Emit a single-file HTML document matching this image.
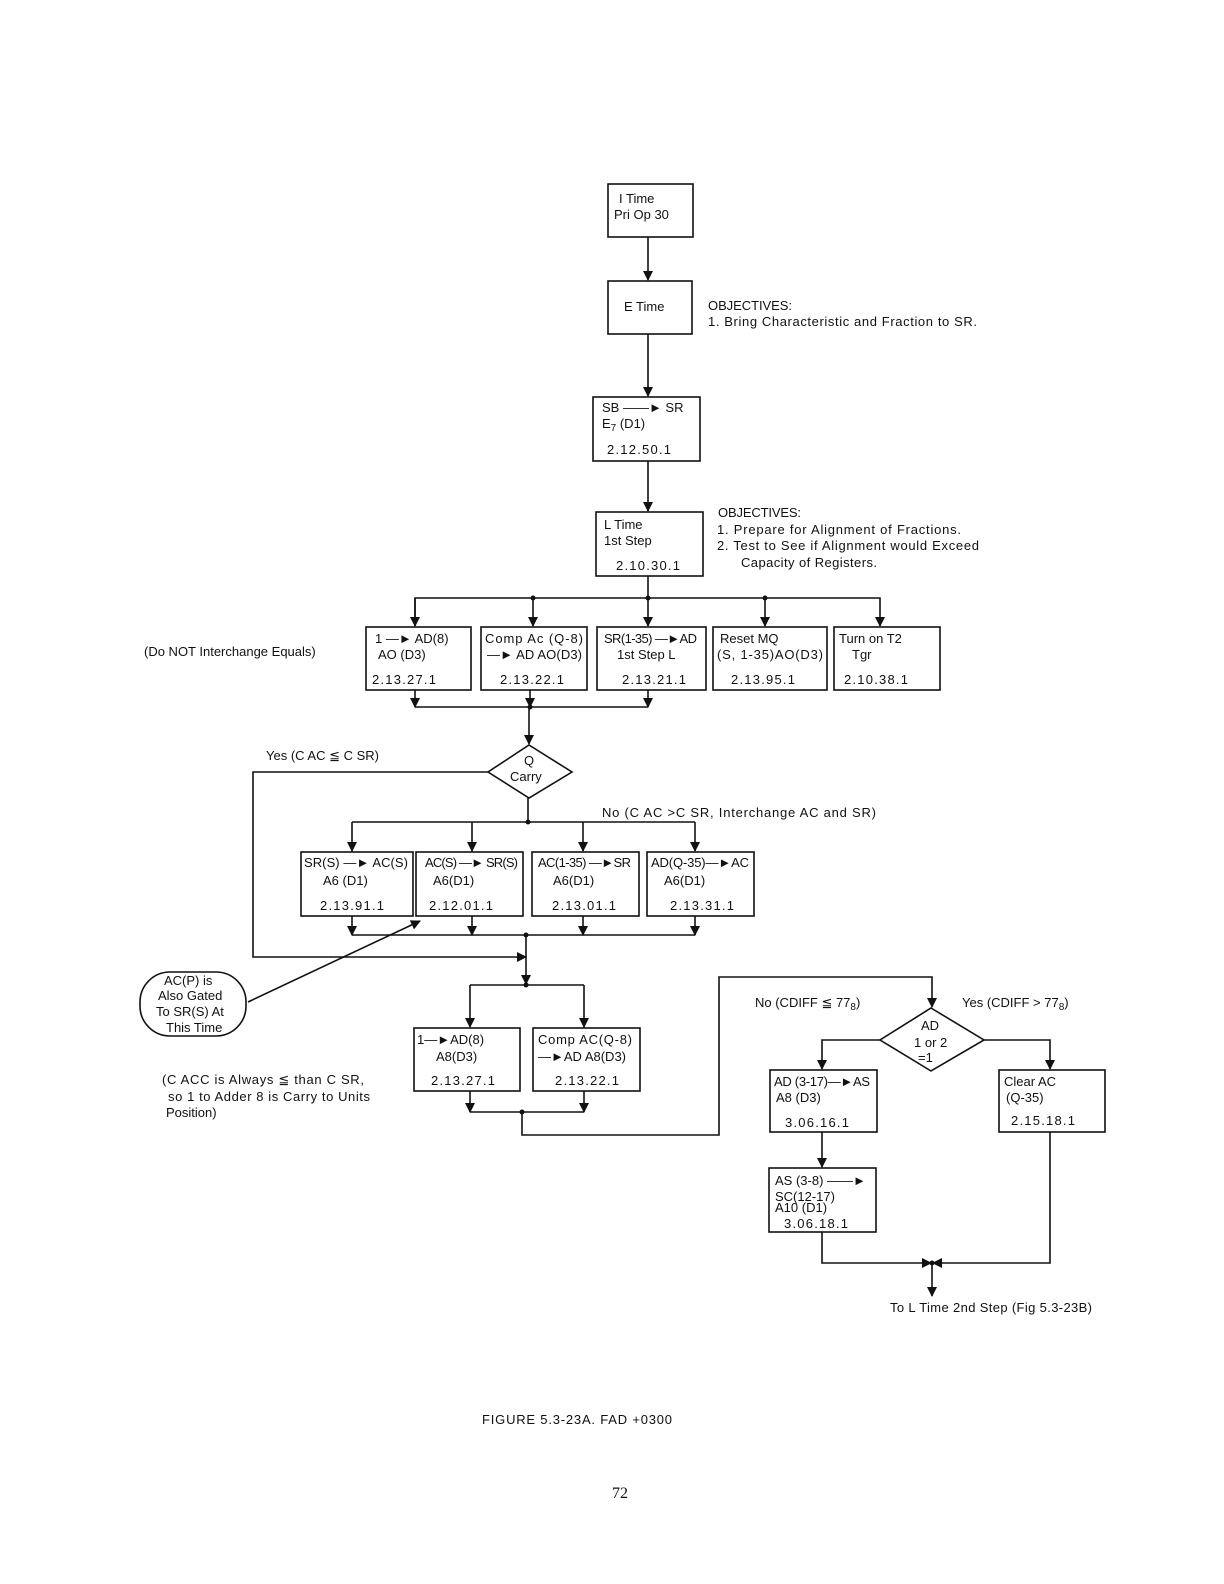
<!DOCTYPE html>
<html><head><meta charset="utf-8"><style>
html,body{margin:0;padding:0;background:#fff;overflow:hidden}
svg{display:block}
text{font-family:"Liberation Sans",sans-serif;font-size:13px;fill:#111}
</style></head><body>
<svg width="1224" height="1584" viewBox="0 0 1224 1584" xmlns="http://www.w3.org/2000/svg">
<defs>
<marker id="a" markerWidth="10" markerHeight="12" refX="9" refY="5" orient="auto" markerUnits="userSpaceOnUse"><path d="M0,0 L10,5 L0,10 z" fill="#111"/></marker>
</defs>
<g fill="none" stroke="#111" stroke-width="1.6">
<rect x="608" y="184" width="85" height="53"/>
<rect x="608" y="281" width="84" height="53"/>
<rect x="593" y="397" width="107" height="64"/>
<rect x="596" y="512" width="107" height="64"/>
<rect x="366" y="627" width="105" height="63"/>
<rect x="481" y="627" width="106" height="63"/>
<rect x="597" y="627" width="109" height="63"/>
<rect x="713" y="627" width="114" height="63"/>
<rect x="834" y="627" width="106" height="63"/>
<rect x="301" y="852" width="112" height="64"/>
<rect x="416" y="852" width="107" height="64"/>
<rect x="532" y="852" width="107" height="64"/>
<rect x="647" y="852" width="107" height="64"/>
<rect x="414" y="1028" width="106" height="63"/>
<rect x="533" y="1028" width="107" height="63"/>
<rect x="770" y="1070" width="107" height="62"/>
<rect x="999" y="1070" width="106" height="62"/>
<rect x="769" y="1168" width="107" height="64"/>
<polygon points="529,745 572,772 529,798 488,772"/>
<polygon points="931,1008 984,1040 931,1071 880,1040"/>
<rect x="140" y="972" width="106" height="64" rx="30" ry="30"/>
<line x1="648" y1="237" x2="648" y2="280" marker-end="url(#a)"/>
<line x1="648" y1="334" x2="648" y2="396" marker-end="url(#a)"/>
<line x1="648" y1="461" x2="648" y2="511" marker-end="url(#a)"/>
<line x1="648" y1="576" x2="648" y2="598"/>
<polyline points="415,626 415,598 880,598 880,626" marker-end="url(#a)"/>
<line x1="415" y1="598" x2="415" y2="626" marker-end="url(#a)"/>
<line x1="533" y1="598" x2="533" y2="626" marker-end="url(#a)"/>
<line x1="648" y1="598" x2="648" y2="626" marker-end="url(#a)"/>
<line x1="765" y1="598" x2="765" y2="626" marker-end="url(#a)"/>
<line x1="415" y1="690" x2="415" y2="707" marker-end="url(#a)"/>
<line x1="530" y1="690" x2="530" y2="707" marker-end="url(#a)"/>
<line x1="648" y1="690" x2="648" y2="707" marker-end="url(#a)"/>
<line x1="415" y1="707" x2="648" y2="707"/>
<line x1="529" y1="707" x2="529" y2="744" marker-end="url(#a)"/>
<polyline points="488,772 253,772 253,957 526,957" marker-end="url(#a)"/>
<line x1="528" y1="798" x2="528" y2="822"/>
<line x1="352" y1="822" x2="695" y2="822"/>
<line x1="352" y1="822" x2="352" y2="851" marker-end="url(#a)"/>
<line x1="472" y1="822" x2="472" y2="851" marker-end="url(#a)"/>
<line x1="583" y1="822" x2="583" y2="851" marker-end="url(#a)"/>
<line x1="695" y1="822" x2="695" y2="851" marker-end="url(#a)"/>
<line x1="352" y1="916" x2="352" y2="935" marker-end="url(#a)"/>
<line x1="472" y1="916" x2="472" y2="935" marker-end="url(#a)"/>
<line x1="583" y1="916" x2="583" y2="935" marker-end="url(#a)"/>
<line x1="695" y1="916" x2="695" y2="935" marker-end="url(#a)"/>
<line x1="352" y1="935" x2="695" y2="935"/>
<line x1="526" y1="935" x2="526" y2="984" marker-end="url(#a)"/>
<line x1="470" y1="985" x2="584" y2="985"/>
<line x1="470" y1="985" x2="470" y2="1027" marker-end="url(#a)"/>
<line x1="584" y1="985" x2="584" y2="1027" marker-end="url(#a)"/>
<line x1="470" y1="1091" x2="470" y2="1112" marker-end="url(#a)"/>
<line x1="584" y1="1091" x2="584" y2="1112" marker-end="url(#a)"/>
<line x1="470" y1="1112" x2="584" y2="1112"/>
<polyline points="522,1112 522,1135 719,1135 719,977 932,977 932,1007" marker-end="url(#a)"/>
<polyline points="880,1040 822,1040 822,1069" marker-end="url(#a)"/>
<polyline points="984,1040 1050,1040 1050,1069" marker-end="url(#a)"/>
<line x1="822" y1="1132" x2="822" y2="1167" marker-end="url(#a)"/>
<polyline points="822,1232 822,1263 931,1263" marker-end="url(#a)"/>
<polyline points="1050,1132 1050,1263 933,1263" marker-end="url(#a)"/>
<line x1="932" y1="1263" x2="932" y2="1296" marker-end="url(#a)"/>
<line x1="248" y1="1002" x2="420" y2="921" marker-end="url(#a)"/>
</g>
<g fill="#111">
<circle cx="533" cy="598" r="2.5"/><circle cx="648" cy="598" r="2.5"/><circle cx="765" cy="598" r="2.5"/>
<circle cx="530" cy="707" r="2.5"/><circle cx="528" cy="822" r="2.5"/><circle cx="526" cy="935" r="2.5"/>
<circle cx="526" cy="985" r="2.5"/><circle cx="522" cy="1112" r="2.5"/><circle cx="932" cy="1263" r="2.5"/>
</g>
<text x="619" y="203">I Time</text><text x="614" y="219">Pri Op 30</text>
<text x="624" y="311">E Time</text>
<text x="708" y="310" textLength="84">OBJECTIVES:</text>
<text x="708" y="326" textLength="269">1.  Bring Characteristic and Fraction to SR.</text>
<text x="602" y="412">SB ——► SR</text><text x="602" y="428">E<tspan font-size="10" dy="3">7</tspan><tspan dy="-3"> (D1)</tspan></text>
<text x="607" y="454" textLength="64">2.12.50.1</text>
<text x="604" y="529">L Time</text><text x="604" y="545">1st Step</text><text x="616" y="570" textLength="64">2.10.30.1</text>
<text x="718" y="517" textLength="83">OBJECTIVES:</text>
<text x="717" y="534" textLength="244">1.  Prepare for Alignment of Fractions.</text>
<text x="717" y="550" textLength="262">2.  Test to See if Alignment would Exceed</text>
<text x="741" y="567" textLength="136">Capacity of Registers.</text>
<text x="144" y="656">(Do NOT Interchange Equals)</text>
<text x="375" y="643">1 —► AD(8)</text><text x="378" y="659">AO (D3)</text><text x="372" y="684" textLength="64">2.13.27.1</text>
<text x="485" y="643" textLength="98">Comp Ac (Q-8)</text><text x="487" y="659" textLength="95">—► AD AO(D3)</text><text x="500" y="684" textLength="64">2.13.22.1</text>
<text x="604" y="643" textLength="93">SR(1-35) —►AD</text><text x="617" y="659">1st Step L</text><text x="622" y="684" textLength="64">2.13.21.1</text>
<text x="720" y="643">Reset MQ</text><text x="717" y="659" textLength="106">(S, 1-35)AO(D3)</text><text x="731" y="684" textLength="64">2.13.95.1</text>
<text x="839" y="643">Turn on T2</text><text x="852" y="659">Tgr</text><text x="844" y="684" textLength="64">2.10.38.1</text>
<text x="266" y="760">Yes (C AC ≦ C SR)</text>
<text x="524" y="765" font-size="12">Q</text><text x="510" y="781" font-size="12">Carry</text>
<text x="602" y="817" textLength="274">No (C AC  &gt;C SR, Interchange AC and SR)</text>
<text x="304" y="867" textLength="104">SR(S) —► AC(S)</text><text x="323" y="885">A6 (D1)</text><text x="320" y="910" textLength="64">2.13.91.1</text>
<text x="425" y="867" textLength="93">AC(S) —► SR(S)</text><text x="433" y="885">A6(D1)</text><text x="429" y="910" textLength="64">2.12.01.1</text>
<text x="538" y="867" textLength="93">AC(1-35) —►SR</text><text x="553" y="885">A6(D1)</text><text x="552" y="910" textLength="64">2.13.01.1</text>
<text x="651" y="867" textLength="98">AD(Q-35)—►AC</text><text x="664" y="885">A6(D1)</text><text x="670" y="910" textLength="64">2.13.31.1</text>
<text x="164" y="985" font-size="12">AC(P) is</text><text x="158" y="1000" font-size="12">Also Gated</text>
<text x="156" y="1016" font-size="12">To SR(S) At</text><text x="166" y="1032" font-size="12">This Time</text>
<text x="162" y="1084" textLength="202">(C ACC is Always ≦ than C SR,</text>
<text x="168" y="1101" textLength="202">so 1 to Adder 8 is Carry to Units</text>
<text x="166" y="1117">Position)</text>
<text x="417" y="1044">1—►AD(8)</text><text x="436" y="1061">A8(D3)</text><text x="431" y="1085" textLength="64">2.13.27.1</text>
<text x="538" y="1044" textLength="94">Comp AC(Q-8)</text><text x="538" y="1061">—►AD A8(D3)</text><text x="555" y="1085" textLength="64">2.13.22.1</text>
<text x="755" y="1007">No (CDIFF ≦ 77<tspan font-size="10" dy="3">8</tspan><tspan dy="-3">)</tspan></text>
<text x="962" y="1007">Yes (CDIFF  &gt; 77<tspan font-size="10" dy="3">8</tspan><tspan dy="-3">)</tspan></text>
<text x="921" y="1030" font-size="12">AD</text><text x="914" y="1047" font-size="12">1 or 2</text><text x="918" y="1062" font-size="12">=1</text>
<text x="774" y="1086" textLength="96">AD (3-17)—►AS</text><text x="776" y="1102">A8 (D3)</text><text x="785" y="1127" textLength="64">3.06.16.1</text>
<text x="1004" y="1086">Clear AC</text><text x="1006" y="1102">(Q-35)</text><text x="1011" y="1125" textLength="64">2.15.18.1</text>
<text x="775" y="1185">AS (3-8) ——►</text><text x="775" y="1201">SC(12-17)</text><text x="775" y="1212">A10 (D1)</text><text x="784" y="1228" textLength="64">3.06.18.1</text>
<text x="890" y="1312" textLength="202">To L Time 2nd Step (Fig 5.3-23B)</text>
<text x="482" y="1424" textLength="190">FIGURE 5.3-23A.  FAD +0300</text>
<text x="612" y="1498" style="font-family:'Liberation Serif',serif;font-size:16px">72</text>
</svg>
</body></html>
